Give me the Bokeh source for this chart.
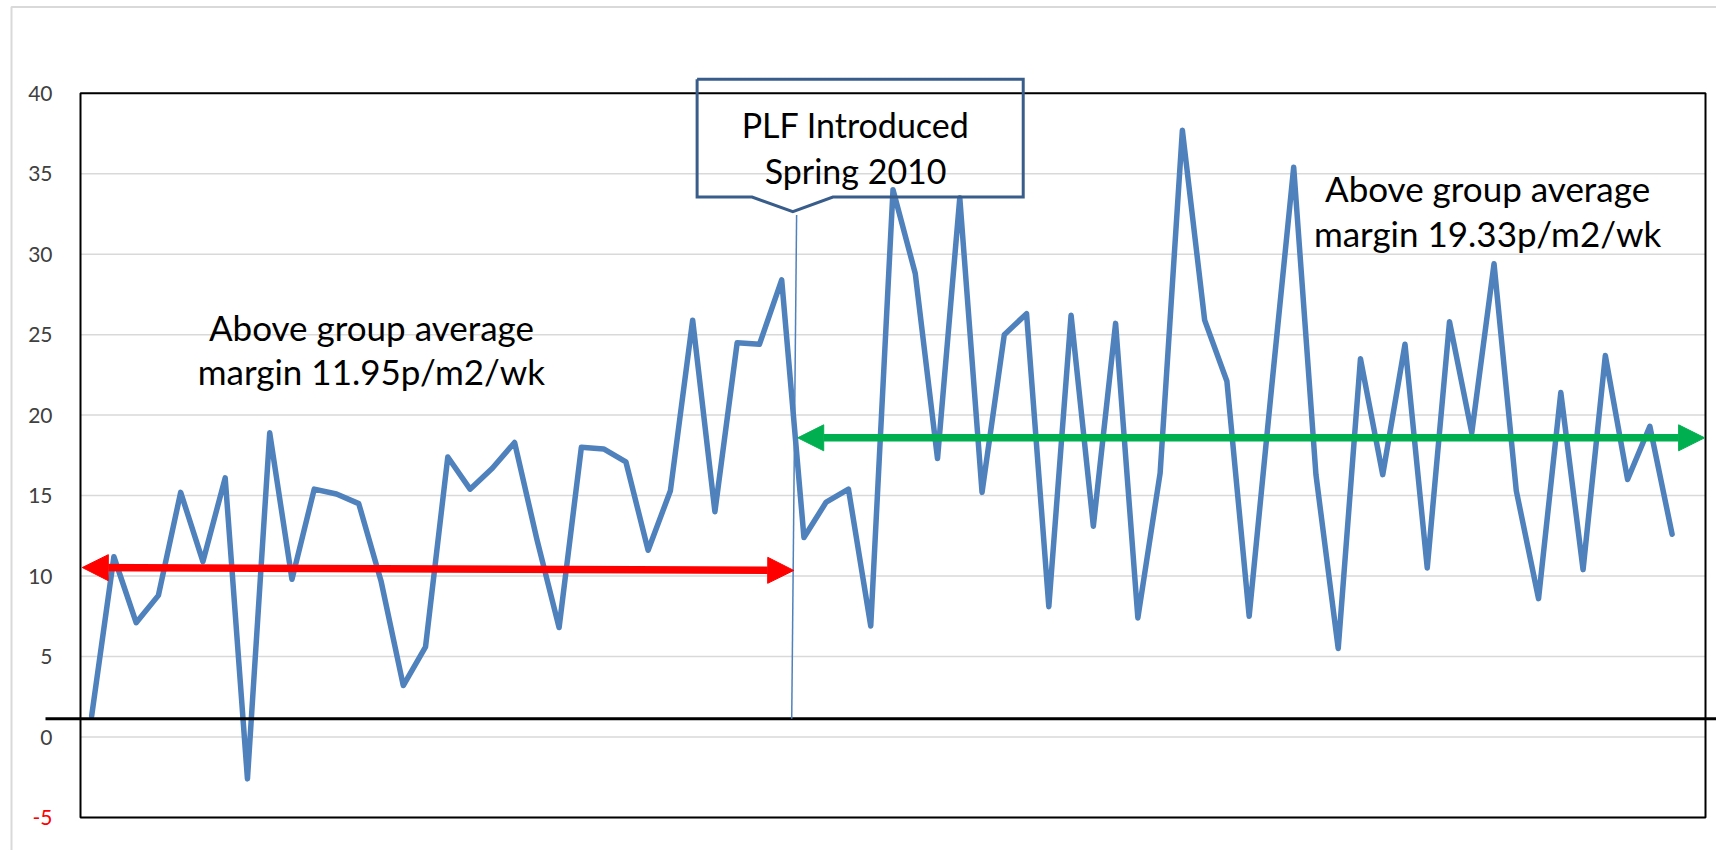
from bokeh.plotting import figure
from bokeh.models import ColumnDataSource, Label, Arrow, NormalHead, Range1d
from bokeh.core.properties import value
from bokeh.embed import file_html
from bokeh.resources import INLINE

# ---------------- data ----------------
weeks = list(range(73))          # 73 weekly categories (last one empty)
margin = [1.3, 11.2, 7.1, 8.8, 15.2, 10.9, 16.1, -2.6, 18.9, 9.8,
          15.4, 15.1, 14.5, 9.7, 3.2, 5.6, 17.4, 15.4, 16.7, 18.3,
          12.3, 6.8, 18.0, 17.9, 17.1, 11.6, 15.3, 25.9, 14.0, 24.5,
          24.4, 28.4, 12.4, 14.6, 15.4, 6.9, 34.0, 28.8, 17.3, 33.5,
          15.2, 25.0, 26.3, 8.1, 26.2, 13.1, 25.7, 7.4, 16.4, 37.7,
          25.9, 22.1, 7.5, 21.6, 35.4, 16.3, 5.5, 23.5, 16.3, 24.4,
          10.5, 25.8, 18.9, 29.4, 15.3, 8.6, 21.4, 10.4, 23.7, 16.0,
          19.3, 12.6, float("nan")]
y_ticks = [0, 5, 10, 15, 20, 25, 30, 35, 40]
y_tick_labels = ["0", "5", "10", "15", "20", "25", "30", "35", "40"]
grid_ticks = [-5, 0, 5, 10, 15, 20, 25, 30, 35, 40]
neg_tick = -5
y_min, y_max = -5, 40
before_avg = 10.45      # level of the red arrow (pre-PLF)
after_avg = 18.59       # level of the green arrow (post-PLF)
ref_level = 1.14        # black reference line
plf_week = 31.55        # PLF introduction marker

# ---------------- layout (pixels) ----------------
W, H = 1716, 850
BOX_L, BOX_R, BOX_T, BOX_B = 80.0, 1705.0, 92.7, 817.0
n_cat = len(weeks)
ppx = (BOX_R - BOX_L) / n_cat
ppy = (BOX_B - BOX_T) / (y_max - y_min)
x_lo = -0.5 - BOX_L / ppx
x_hi = x_lo + W / ppx
y_hi = y_max + BOX_T / ppy
y_lo = y_hi - H / ppy

def dx(px):
    return x_lo + px / ppx

def dy(py):
    return y_hi - py / ppy

FONT = "Lato"

p = figure(width=W, height=H, output_backend="svg", toolbar_location=None,
           x_range=Range1d(x_lo, x_hi), y_range=Range1d(y_lo, y_hi),
           min_border=0)
p.background_fill_color = "white"
p.border_fill_color = "white"
p.outline_line_color = None
p.xaxis.visible = False
p.yaxis.visible = False
p.xgrid.visible = False
p.ygrid.visible = False

box_l, box_r = -0.5, n_cat - 0.5

# gridlines
p.segment(x0=[box_l] * len(grid_ticks), x1=[box_r] * len(grid_ticks),
          y0=grid_ticks, y1=grid_ticks, line_color="#D9D9D9", line_width=1.5)

# y tick labels
p.text(x=[dx(52)] * len(y_ticks), y=y_ticks, text=y_tick_labels,
       text_align="right", text_baseline="middle", text_color="#404040",
       text_font=value(FONT), text_font_size="21px")
p.text(x=[dx(52)], y=[neg_tick], text=[str(neg_tick)],
       text_align="right", text_baseline="middle", text_color="#FF0000",
       text_font=value(FONT), text_font_size="21px")

# plot box
p.quad(left=[box_l], right=[box_r], bottom=[y_min], top=[y_max],
       fill_alpha=0, line_color="black", line_width=2)

# outer light chart-area border (left and top)
p.line(x=[dx(11), dx(11), dx(W + 5)], y=[dy(H + 5), dy(6.6), dy(6.6)],
       line_color="#D9D9D9", line_width=2)

src = ColumnDataSource(dict(x=weeks, y=margin))
p.line("x", "y", source=src, line_color="#4F81BD", line_width=5.5,
       line_join="round", line_cap="round")

# black reference line (extends beyond plot box)
p.line(x=[dx(45), dx(1716)], y=[ref_level, ref_level],
       line_color="black", line_width=3)

# thin marker line for PLF introduction
p.line(x=[plf_week - 0.1, plf_week + 0.12], y=[ref_level, 32.44],
       line_color="#4F81BD", line_width=1.5)

# red double arrow
p.add_layout(Arrow(start=NormalHead(size=26, fill_color="#FF0000", line_color="#FF0000"),
                   end=NormalHead(size=26, fill_color="#FF0000", line_color="#FF0000"),
                   x_start=-0.42, y_start=before_avg + 0.08,
                   x_end=31.54, y_end=before_avg - 0.1,
                   line_color="#FF0000", line_width=7.5))

# green double arrow
p.add_layout(Arrow(start=NormalHead(size=26, fill_color="#00B050", line_color="#00B050"),
                   end=NormalHead(size=26, fill_color="#00B050", line_color="#00B050"),
                   x_start=31.72, y_start=after_avg,
                   x_end=72.46, y_end=after_avg,
                   line_color="#00B050", line_width=7.5))

# callout box
p.line(x=[27.2, 41.85, 41.85, 33.3, 31.5, 29.67, 27.2, 27.2],
       y=[40.86, 40.86, 33.55, 33.55, 32.64, 33.55, 33.55, 40.86],
       line_color="#385D8A", line_width=3, line_join="miter")

def lab(x, y, t, size):
    p.add_layout(Label(x=x, y=y, text=t, text_align="center",
                       text_baseline="alphabetic", text_color="black",
                       text_font=FONT, text_font_size=size))

lab(34.32, 38.03, "PLF Introduced", "34px")
lab(34.32, 35.18, "Spring 2010", "34px")
lab(12.57, 25.48, "Above group average", "35px")
lab(12.57, 22.73, "margin 11.95p/m2/wk", "35px")
lab(62.71, 34.12, "Above group average", "35px")
lab(62.71, 31.33, "margin 19.33p/m2/wk", "35px")

open("out.html", "w").write(file_html(p, INLINE))
